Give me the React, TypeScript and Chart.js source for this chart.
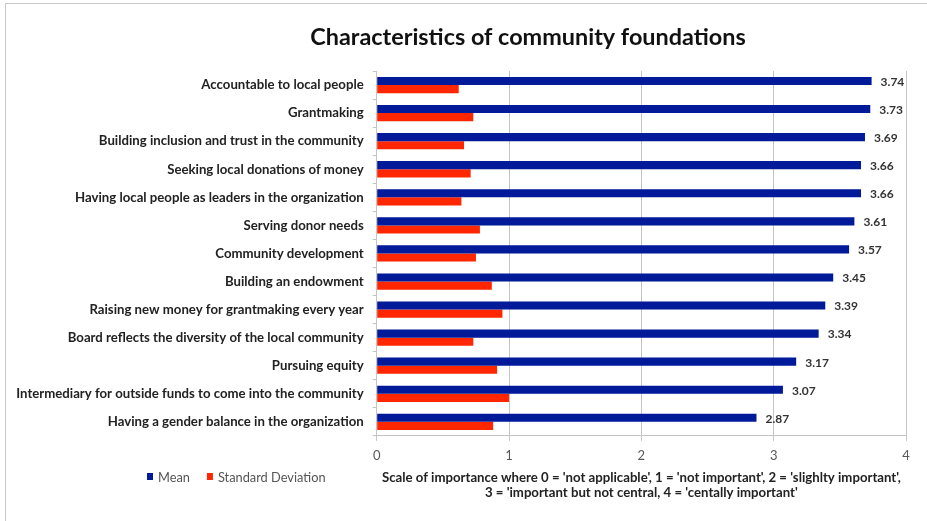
import React, { useEffect, useRef } from 'react';
import { Chart, registerables } from 'chart.js';

Chart.register(...registerables);

const chartTitle = 'Characteristics of community foundations';
const categories = [
  'Accountable to local people',
  'Grantmaking',
  'Building inclusion and trust in the community',
  'Seeking local donations of money',
  'Having local people as leaders in the organization',
  'Serving donor needs',
  'Community development',
  'Building an endowment',
  'Raising new money for grantmaking every year',
  'Board reflects the diversity of the local community',
  'Pursuing equity',
  'Intermediary for outside funds to come into the community',
  'Having a gender balance in the organization',
];
const seriesLabels = ['Mean', 'Standard Deviation'];
const meanValues = [3.74, 3.73, 3.69, 3.66, 3.66, 3.61, 3.57, 3.45, 3.39, 3.34, 3.17, 3.07, 2.87];
const sdValues = [0.62, 0.73, 0.66, 0.71, 0.64, 0.78, 0.75, 0.87, 0.95, 0.73, 0.91, 1.0, 0.88];
const xMin = 0;
const xMax = 4;
const xStep = 1;
const axisTitle = [
  "Scale of importance where 0 = 'not applicable', 1 = 'not important', 2 = 'slighlty important',",
  "3 = 'important but not central, 4 = 'centally important'",
];

const FONT = 'Lato, "Open Sans", sans-serif';
const MEAN_COLOR = '#001a9a';
const SD_COLOR = '#ff2600';
const GRID_COLOR = '#c4c4c4';
const TITLE_CENTER_X = 528;
const TITLE_CENTER_Y = 37;
const LEGEND_LEFT = 147;
const LEGEND_Y = 478;

const decorPlugin = {
  id: 'decor',
  afterDatasetsDraw(chart: any) {
    const ctx = chart.ctx;
    ctx.save();
    const meta = chart.getDatasetMeta(0);
    ctx.font = `bold 12px ${FONT}`;
    ctx.fillStyle = '#333333';
    ctx.textAlign = 'left';
    ctx.textBaseline = 'middle';
    meta.data.forEach((bar: any, i: number) => {
      ctx.fillText(meanValues[i].toFixed(2), bar.x + 9, bar.y + 1);
    });
    ctx.restore();
  },
  afterDraw(chart: any) {
    const ctx = chart.ctx;
    ctx.save();
    ctx.font = `bold 23.4px ${FONT}`;
    ctx.fillStyle = '#111111';
    ctx.textAlign = 'center';
    ctx.textBaseline = 'middle';
    ctx.fillText(chartTitle, TITLE_CENTER_X, TITLE_CENTER_Y);
    ctx.font = `12.8px ${FONT}`;
    ctx.textAlign = 'left';
    let x = LEGEND_LEFT;
    chart.data.datasets.forEach((ds: any) => {
      ctx.fillStyle = ds.backgroundColor;
      ctx.fillRect(x, LEGEND_Y - 5, 6, 7);
      x += 11;
      ctx.fillStyle = '#555555';
      ctx.fillText(ds.label, x, LEGEND_Y);
      x += ctx.measureText(ds.label).width + 17;
    });
    ctx.restore();
  },
};

export default function App() {
  const ref = useRef<HTMLCanvasElement>(null);
  useEffect(() => {
    const canvas = ref.current!;
    const chart = new Chart(canvas, {
      type: 'bar',
      data: {
        labels: categories,
        datasets: [
          { label: seriesLabels[0], data: meanValues, backgroundColor: MEAN_COLOR, categoryPercentage: 0.58, barPercentage: 1 },
          { label: seriesLabels[1], data: sdValues, backgroundColor: SD_COLOR, categoryPercentage: 0.58, barPercentage: 1 },
        ],
      },
      options: {
        indexAxis: 'y',
        animation: false,
        responsive: false,
        devicePixelRatio: 1,
        layout: { padding: { top: 71, right: 21, bottom: 20.5, left: 0 } },
        plugins: {
          legend: { display: false },
          title: { display: false },
          tooltip: { enabled: false },
        },
        scales: {
          x: {
            min: xMin,
            max: xMax,
            ticks: { stepSize: xStep, color: '#595959', font: { family: FONT, size: 13 }, padding: 7 },
            grid: { color: GRID_COLOR, tickLength: 5 },
            border: { color: GRID_COLOR },
            title: {
              display: true,
              text: axisTitle,
              color: '#222222',
              font: { family: FONT, size: 13.2, weight: 'bold', lineHeight: '15px' },
              padding: { top: 0, bottom: 0 },
            },
          },
          y: {
            ticks: { color: '#222222', font: { family: FONT, size: 13.2, weight: 'bold' }, padding: 9 },
            grid: { offset: true, drawOnChartArea: false, tickLength: 4, color: GRID_COLOR },
            border: { color: GRID_COLOR },
            afterFit: (s: any) => {
              s.width = 376.7;
            },
          },
        },
      },
      plugins: [decorPlugin],
    } as any);
    return () => chart.destroy();
  }, []);

  return (
    <div style={{ position: 'fixed', left: 0, top: 0, width: 927, height: 521, overflow: 'hidden', background: '#fff' }}>
      <div
        style={{
          position: 'absolute',
          left: 5,
          top: 3,
          width: 1200,
          height: 800,
          borderLeft: '1px solid #c8c8c8',
          borderTop: '1px solid #c8c8c8',
        }}
      />
      <canvas ref={ref} width={927} height={521} style={{ position: 'absolute', left: 0, top: 0, width: 927, height: 521 }} />
    </div>
  );
}
